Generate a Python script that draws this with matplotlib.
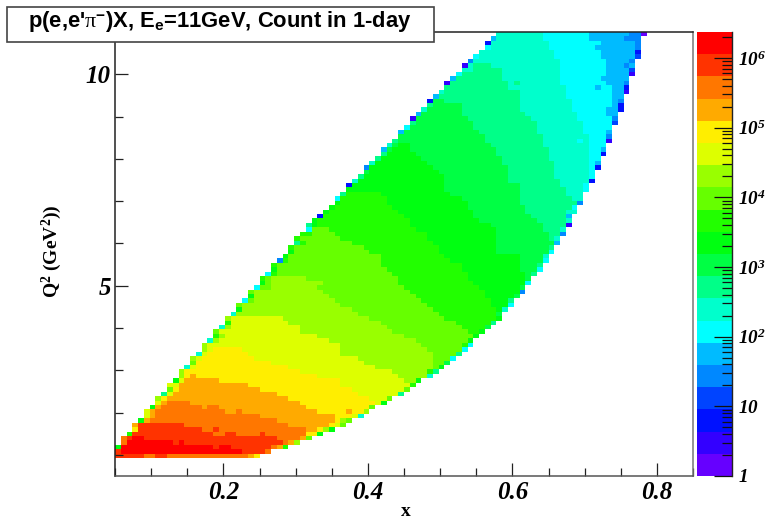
import numpy as np
import matplotlib
matplotlib.use('Agg')
import matplotlib.pyplot as plt
from matplotlib.colors import ListedColormap, BoundaryNorm
from matplotlib.patches import Rectangle
from matplotlib.ticker import MultipleLocator, LogLocator, NullFormatter

plt.rcParams['font.family'] = 'Liberation Serif'
plt.rcParams['mathtext.fontset'] = 'custom'
plt.rcParams['mathtext.rm'] = 'Liberation Sans:bold'
plt.rcParams['mathtext.sf'] = 'Liberation Serif'
plt.rcParams['mathtext.it'] = 'Liberation Serif:italic'
plt.rcParams['mathtext.bf'] = 'Liberation Serif:bold'
plt.rcParams['mathtext.bfit'] = 'Liberation Serif:italic:bold'

n_bins = 100
x_range = [0.05, 0.85]
y_range = [0.5, 11.0]
count_max = 2.36e6

# palette steps from the lowest count band to the highest
band_colors = ['#6600ff', '#3300ff', '#0011ff', '#0044ff', '#0088ff',
               '#00bbff', '#00ffff', '#00ffcc', '#00ff88', '#00ff44',
               '#00ff11', '#22ff00', '#66ff00', '#99ff00', '#ddff00',
               '#ffee00', '#ffaa00', '#ff7700', '#ff3300', '#ff0000']

# y bin -> first x bin, then (band, end bin) pairs
row_runs = {
    4: [0, 18,5, 17,7, 18,9, 17,23, 16,24, 15,25],
    5: [0, 18,1, 19,22, 18,26, 17,27],
    6: [0, 10,1, 19,17, 18,18, 19,20, 18,27, 17,28, 16,29, 11,30],
    7: [1, 17,2, 19,10, 18,11, 19,12, 18,29, 17,30, 16,31, 13,32],
    8: [1, 17,2, 18,3, 19,5, 18,28, 17,32, 16,33, 12,34],
    9: [2, 11,3, 18,17, 17,19, 18,21, 17,25, 18,26, 17,33, 15,35, 10,36],
    10: [3, 15,4, 18,15, 17,17, 18,18, 17,33, 16,35, 15,36, 13,37, 10,38],
    11: [3, 16,4, 18,12, 17,30, 16,37, 15,38, 14,39, 12,40],
    12: [4, 10,5, 16,6, 17,28, 16,38, 15,39, 13,40, 12,41],
    13: [5, 14,6, 16,7, 17,25, 16,38, 15,41, 14,42, 7,43],
    14: [5, 14,6, 16,7, 17,19, 16,21, 17,22, 16,35, 15,40, 16,41, 15,43, 13,44],
    15: [6, 10,7, 16,8, 17,15, 16,16, 17,18, 16,33, 15,44, 12,45],
    16: [7, 14,8, 16,9, 17,13, 16,32, 15,45, 14,46, 10,47],
    17: [7, 13,8, 15,9, 16,30, 15,44, 14,47, 12,48],
    18: [8, 8,9, 14,10, 16,28, 15,42, 14,49, 8,50],
    19: [9, 12,10, 15,11, 16,25, 15,41, 14,50, 12,51],
    20: [9, 14,11, 16,23, 15,39, 14,51, 11,52],
    21: [10, 10,11, 14,12, 16,18, 15,39, 14,50, 13,52, 10,53],
    22: [11, 13,12, 15,13, 16,14, 15,35, 14,49, 13,54, 7,55],
    23: [11, 13,12, 15,32, 14,48, 13,54, 11,55, 8,56],
    24: [12, 7,13, 14,14, 15,30, 14,45, 13,55, 12,56, 10,57],
    25: [13, 12,14, 15,27, 14,43, 13,55, 12,57, 9,58],
    26: [13, 13,14, 14,15, 15,24, 14,42, 13,55, 12,58, 6,59],
    27: [14, 7,15, 14,16, 15,23, 14,39, 13,55, 12,59, 8,60],
    28: [15, 13,16, 14,17, 15,22, 14,39, 13,54, 12,60, 6,61],
    29: [15, 13,16, 14,39, 13,53, 12,60, 11,61, 6,62],
    30: [16, 7,17, 13,18, 14,37, 13,52, 12,61, 10,62],
    31: [17, 11,18, 13,19, 14,35, 13,50, 12,62, 10,63],
    32: [17, 12,18, 14,32, 13,48, 12,61, 11,63, 10,64],
    33: [18, 7,19, 13,20, 14,32, 13,47, 12,60, 11,64, 9,65],
    34: [19, 11,20, 14,30, 13,46, 12,59, 11,65, 8,66],
    35: [19, 13,20, 14,29, 13,44, 12,57, 11,66, 10,67],
    36: [20, 7,21, 13,42, 12,56, 11,66, 9,67],
    37: [21, 10,22, 13,41, 12,55, 11,66, 10,67, 7,68],
    38: [21, 12,22, 13,39, 12,54, 11,65, 10,68, 6,69],
    39: [22, 6,23, 12,24, 13,38, 12,53, 11,65, 10,68, 8,69],
    40: [23, 10,24, 13,37, 12,52, 11,64, 10,69, 9,70],
    41: [23, 12,24, 13,36, 12,51, 11,64, 10,70, 4,71],
    42: [24, 6,25, 12,27, 13,35, 12,50, 11,63, 10,70, 9,71],
    43: [25, 10,26, 12,27, 13,36, 12,49, 11,62, 10,71, 6,72],
    44: [25, 11,26, 12,27, 13,33, 12,49, 11,61, 10,71, 9,72],
    45: [26, 6,27, 11,28, 12,48, 11,61, 10,71, 9,72, 8,73],
    46: [27, 10,28, 12,47, 11,60, 10,70, 9,73, 6,74],
    47: [27, 11,28, 12,46, 11,60, 10,70, 9,73, 8,74],
    48: [28, 4,29, 11,30, 12,46, 11,58, 10,70, 9,74, 6,75],
    49: [29, 10,30, 12,46, 11,57, 10,70, 9,74, 7,75],
    50: [30, 10,31, 12,44, 11,56, 10,66, 9,75, 6,76],
    51: [30, 11,31, 12,43, 11,56, 10,66, 9,75, 8,76],
    52: [31, 8,32, 11,33, 12,41, 11,55, 10,66, 9,76, 5,77],
    53: [31, 11,32, 12,39, 11,54, 10,66, 9,75, 8,76, 7,77],
    54: [32, 11,34, 12,38, 11,54, 10,66, 9,75, 8,77, 4,78],
    55: [33, 6,34, 12,37, 11,52, 10,66, 9,74, 8,77, 7,78],
    56: [33, 8,34, 10,35, 11,51, 10,65, 9,74, 8,78, 1,79],
    57: [34, 10,35, 11,51, 10,63, 9,73, 8,78, 7,79],
    58: [35, 2,36, 11,50, 10,62, 9,72, 8,78, 5,79],
    59: [36, 10,37, 11,49, 10,62, 9,71, 8,78, 7,80],
    60: [37, 10,38, 11,48, 10,61, 9,71, 8,79, 6,80],
    61: [38, 10,39, 11,47, 10,61, 9,70, 8,80, 4,81],
    62: [38, 6,39, 11,47, 10,60, 9,70, 8,79, 7,81],
    63: [39, 8,40, 11,46, 10,58, 9,70, 8,78, 7,81],
    64: [40, 10,57, 9,70, 8,78, 7,81, 6,82],
    65: [40, 2,41, 10,57, 9,70, 8,77, 7,81, 6,82],
    66: [41, 7,42, 10,57, 9,68, 8,77, 7,82, 2,83],
    67: [42, 8,43, 10,57, 9,68, 8,76, 7,82, 6,83],
    68: [43, 9,44, 10,56, 9,68, 8,76, 7,82, 6,83],
    69: [43, 4,44, 10,55, 9,68, 8,76, 7,82, 6,83, 2,84],
    70: [44, 7,45, 10,54, 9,67, 8,76, 7,82, 6,83, 5,84],
    71: [45, 8,46, 10,53, 9,67, 8,75, 7,82, 6,84],
    72: [46, 8,47, 10,52, 9,66, 8,75, 7,82, 6,84, 2,85],
    73: [46, 5,47, 9,48, 10,51, 9,66, 8,75, 7,82, 6,84, 5,85],
    74: [47, 7,48, 9,49, 10,51, 9,65, 8,74, 7,82, 6,85],
    75: [48, 8,49, 9,64, 8,74, 7,80, 6,81, 7,82, 6,85, 1,86],
    76: [49, 9,64, 8,74, 7,82, 6,85, 4,86],
    77: [49, 5,50, 9,63, 8,73, 7,81, 6,85, 5,86],
    78: [50, 6,51, 9,62, 8,73, 7,81, 6,86],
    79: [51, 8,52, 9,62, 8,73, 7,81, 6,86, 3,87],
    80: [51, 1,52, 9,61, 8,72, 7,80, 6,86, 4,87],
    81: [52, 5,53, 9,60, 8,71, 7,80, 6,85, 5,87],
    82: [53, 7,54, 9,60, 8,70, 7,79, 6,85, 5,87, 2,88],
    83: [54, 8,55, 9,60, 8,70, 7,79, 6,86, 5,87, 2,88],
    84: [54, 2,55, 9,57, 8,70, 7,79, 6,86, 5,87, 4,88],
    85: [55, 5,56, 8,70, 7,78, 6,86, 5,88],
    86: [56, 7,57, 8,70, 7,78, 6,86, 5,88, 1,89],
    87: [57, 8,68, 7,78, 6,83, 5,84, 6,86, 5,88, 2,89],
    88: [57, 1,58, 8,68, 7,69, 8,70, 7,77, 6,85, 5,88, 4,89],
    89: [58, 5,59, 8,67, 7,77, 6,84, 5,89],
    90: [59, 6,60, 8,67, 7,77, 6,85, 5,89, 1,90],
    91: [60, 7,62, 8,67, 7,77, 6,85, 5,89, 3,90],
    92: [60, 1,61, 7,62, 8,65, 7,77, 6,85, 5,88, 4,89, 5,90],
    93: [61, 4,62, 7,77, 6,85, 5,89, 4,90],
    94: [62, 6,63, 7,76, 6,84, 5,90, 3,91],
    95: [63, 7,76, 6,84, 5,90, 2,91],
    96: [64, 6,65, 7,75, 6,83, 5,90, 4,91],
    97: [64, 2,65, 7,75, 6,84, 5,90, 4,91],
    98: [65, 5,66, 7,74, 6,82, 5,88, 4,91],
    99: [66, 7,74, 6,82, 5,89, 4,91, 0,92],
}

bands = np.full((n_bins, n_bins), np.nan)
for row, runs in row_runs.items():
    col = runs[0]
    for band, end in zip(runs[1::2], runs[2::2]):
        bands[row, col:end] = band
        col = end

W, H = 765, 519


def px_axes(left, top, right, bottom):
    return [left / W, 1 - bottom / H, (right - left) / W, (bottom - top) / H]


cmap = ListedColormap(band_colors)
norm = BoundaryNorm(np.arange(len(band_colors) + 1) - 0.5, len(band_colors))
count_edges = np.logspace(0, np.log10(count_max), len(band_colors) + 1)

fig = plt.figure(figsize=(W / 100, H / 100), dpi=100, facecolor='white')
ax = fig.add_axes(px_axes(115, 32, 693, 476))
x_edges = np.linspace(x_range[0], x_range[1], n_bins + 1)
y_edges = np.linspace(y_range[0], y_range[1], n_bins + 1)
ax.pcolormesh(x_edges, y_edges, bands, cmap=cmap, norm=norm, antialiased=False)
ax.set_xlim(x_range)
ax.set_ylim(y_range)

ax.xaxis.set_major_locator(MultipleLocator(0.2))
ax.xaxis.set_minor_locator(MultipleLocator(0.05))
ax.yaxis.set_major_locator(MultipleLocator(5))
ax.yaxis.set_minor_locator(MultipleLocator(1))
ax.tick_params(which='major', direction='in', length=9.5, width=0.9, color='#222222')
ax.tick_params(which='minor', direction='in', length=5.5, width=0.9, color='#222222')
ax.tick_params(axis='x', which='major', pad=3.5)
ax.tick_params(axis='y', which='major', pad=3)
ax.set_xticks([0.2, 0.4, 0.6, 0.8], ['0.2', '0.4', '0.6', '0.8'])
ax.set_yticks([5, 10], ['5', '10'])
for lab in ax.get_xticklabels() + ax.get_yticklabels():
    lab.set_fontsize(18)
    lab.set_fontstyle('italic')
    lab.set_fontweight('bold')
for spine in ax.spines.values():
    spine.set_linewidth(1.1)
    spine.set_color('#222222')
ax.spines['right'].set_color('#777777')
ax.spines['bottom'].set_color('#555555')

fig.text(406 / W, 1 - 511 / H, 'x', fontsize=14, fontweight='bold',
         ha='center', va='center')
fig.text(52 / W, 1 - 251 / H, r'Q$^{\mathbf{2}}$ (GeV$^{\mathbf{2}}$))', fontsize=14,
         fontweight='bold', rotation=90, ha='center', va='center')

cax = fig.add_axes(px_axes(697, 32, 732, 476))
cax.pcolormesh([0, 1], count_edges, np.arange(len(band_colors))[:, None],
               cmap=cmap, norm=norm, antialiased=False)
cax.set_yscale('log')
cax.set_ylim(1, count_max)
cax.set_xticks([])
cax.yaxis.tick_right()
cax.yaxis.set_major_locator(LogLocator(base=10, numticks=10))
cax.yaxis.set_minor_locator(LogLocator(base=10, subs=np.arange(2, 10), numticks=10))
cax.yaxis.set_minor_formatter(NullFormatter())
cax.set_yticks([1, 10, 1e2, 1e3, 1e4, 1e5, 1e6],
               [r'$\mathbfit{1}$', r'$\mathbfit{10}$', r'$\mathbfit{10^{2}}$',
                r'$\mathbfit{10^{3}}$', r'$\mathbfit{10^{4}}$',
                r'$\mathbfit{10^{5}}$', r'$\mathbfit{10^{6}}$'])
cax.tick_params(which='major', direction='in', length=13, width=0.9,
                color='#111111', labelsize=13.8, pad=4.5)
cax.tick_params(which='minor', direction='in', length=7, width=0.9, color='#111111')
for name, spine in cax.spines.items():
    spine.set_visible(name == 'right')
cax.spines['right'].set_linewidth(1.0)
cax.spines['right'].set_color('#222222')

# title box sits over the top of the frame
fig.add_artist(Rectangle((7 / W, 1 - 42 / H), 427 / W, 35 / H, transform=fig.transFigure,
                         facecolor='white', edgecolor='#444444', linewidth=1.2, zorder=5))
fig.text(220 / W, 1 - 22 / H, "p(e,e'$\\mathsf{\\pi}^{-}$)X, E$_{\\mathrm{e}}$=11GeV, Count in 1-day",
         family='Liberation Sans', fontweight='bold', fontsize=15.8,
         ha='center', va='center', zorder=6)

fig.savefig('out.png', dpi=100, facecolor='white')
